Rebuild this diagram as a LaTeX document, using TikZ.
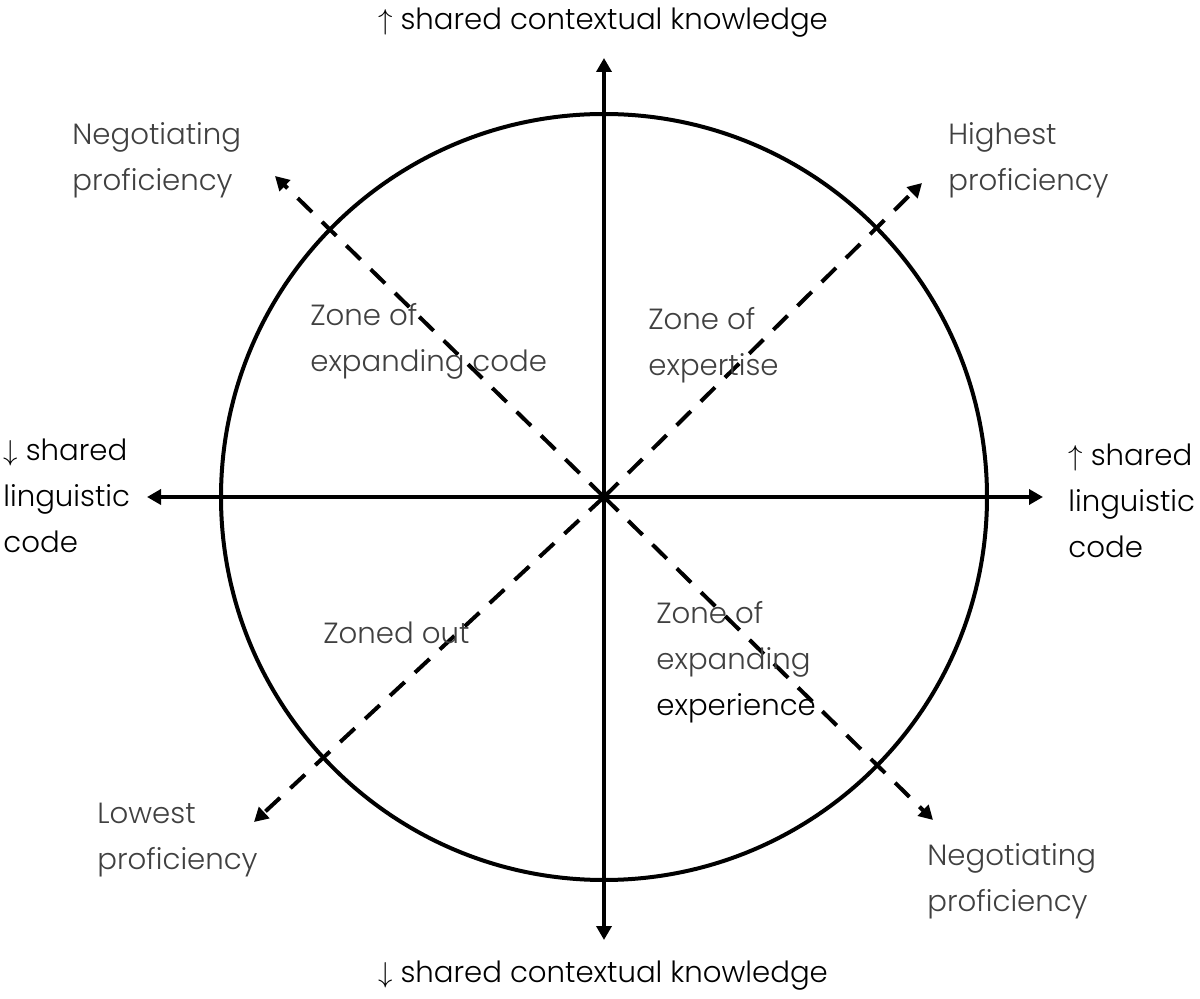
\documentclass[tikz,border=0pt]{standalone}
\usepackage{fontspec}
\setmainfont{Poppins}[UprightFont={* Light}]
\usetikzlibrary{arrows.meta}
\definecolor{labelgray}{RGB}{64,64,64}
\begin{document}
\begin{tikzpicture}[x=0.5pt, y=-0.5pt, line join=round,
    axis/.style={line width=2pt, {Triangle[length=7pt,width=7.5pt]}-{Triangle[length=7pt,width=7.5pt]}},
    diag/.style={line width=2pt, dash pattern=on 10pt off 7pt, -{Triangle[length=7pt,width=7.5pt]}},
    lbl/.style={font=\fontsize{14.6}{23}\selectfont, align=left, anchor=base west, inner sep=0pt, text=labelgray},
    axlbl/.style={lbl, text=black}]
    \useasboundingbox (0,0) rectangle (1200,999);
    % 圆心与半径
    \coordinate (O) at (604,497);
    % 坐标轴端点
    \coordinate (T) at (604,58);
    \coordinate (Bt) at (604,940);
    \coordinate (L) at (147,497);
    \coordinate (R) at (1043,497);
    % 对角虚线端点
    \coordinate (UR) at (922,183);
    \coordinate (LL) at (254,822);
    \coordinate (UL) at (275,176);
    \coordinate (LR) at (933,820);

    % 圆
    \draw[line width=2pt] (O) circle[radius=383];

    % 实线坐标轴
    \draw[axis] (Bt) -- (T);
    \draw[axis] (L) -- (R);

    % 虚线对角线
    \draw[diag] (O) -- (UR);
    \draw[diag] (O) -- (LL);
    \draw[diag] (O) -- (UL);
    \draw[diag] (O) -- (LR);

    % 轴标注（多行节点的 base 为最后一行基线）
    \node[axlbl, anchor=base] (top) at (603,30) {$\uparrow$ shared contextual knowledge};
    \node[axlbl, anchor=base] (bottom) at (603,982) {$\downarrow$ shared contextual knowledge};
    \node[axlbl] (left) at (3,553) {$\downarrow$ shared\\linguistic\\code};
    \node[axlbl] (right) at (1068,558) {$\uparrow$ shared\\linguistic\\code};

    % 方向标注
    \node[lbl] (negUL) at (72,191) {Negotiating\\proficiency};
    \node[lbl] (high) at (948,191) {Highest\\proficiency};
    \node[lbl] (low) at (97,869) {Lowest\\proficiency};
    \node[lbl] (negLR) at (927,911) {Negotiating\\proficiency};

    % 区域标注
    \node[lbl] (zcode) at (310,372) {Zone of\\expanding code};
    \node[lbl] (zexp) at (648,376) {Zone of\\expertise};
    \node[lbl] (zout) at (323,644) {Zoned out};
    \node[lbl] (zexpr) at (656,716) {Zone of\\expanding\\\textcolor{black}{experience}};
\end{tikzpicture}
\end{document}
